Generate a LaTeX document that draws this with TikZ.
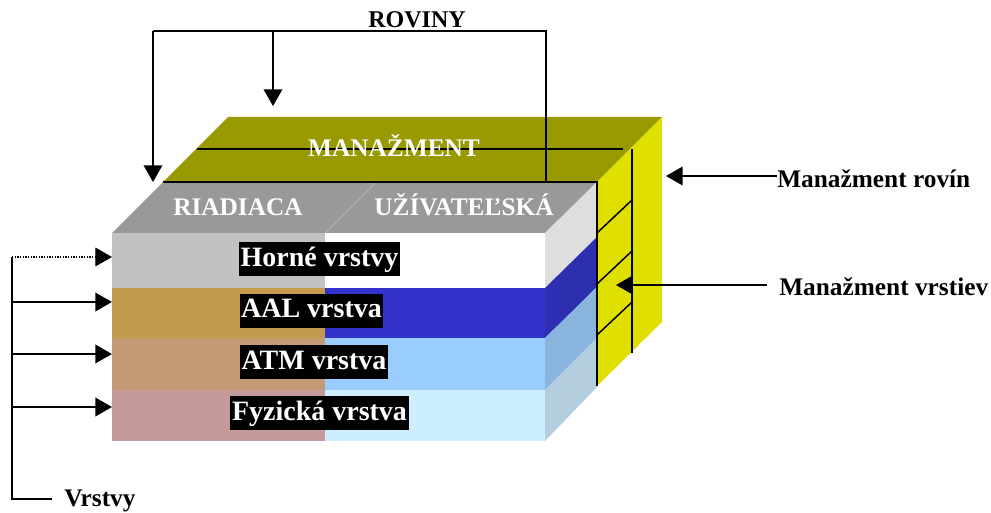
\documentclass[tikz,border=0pt]{standalone}
\usepackage{fontspec}
\setmainfont{Liberation Serif}
\usetikzlibrary{arrows.meta}

\definecolor{mgolive}{HTML}{999900}
\definecolor{mgyellow}{HTML}{E0E000}
\definecolor{plgray}{HTML}{999999}
\definecolor{plsplit}{HTML}{B0B0B0}
\definecolor{hrleft}{HTML}{C2C2C2}
\definecolor{hrside}{HTML}{DEDEDE}
\definecolor{aalleft}{HTML}{C49B4C}
\definecolor{aalright}{HTML}{3333CC}
\definecolor{aalside}{HTML}{2E2EB0}
\definecolor{atmleft}{HTML}{C39A73}
\definecolor{atmright}{HTML}{99CCFF}
\definecolor{atmside}{HTML}{88B4DD}
\definecolor{fyzleft}{HTML}{C49A9A}
\definecolor{fyzright}{HTML}{CCEEFF}
\definecolor{fyzside}{HTML}{B3CEDF}

\begin{document}
\begin{tikzpicture}[x=0.75pt,y=-0.75pt,
  wire/.style={line width=1.1pt},
  arr/.style={wire,-{Triangle[width=14pt,length=12.5pt]}},
  layerlbl/.style={fill=black,text=white,font=\bfseries\fontsize{21}{25}\selectfont,
    inner xsep=1.2pt,inner ysep=3pt,text height=15pt,text depth=4.5pt},
  facelbl/.style={text=white,font=\bfseries\fontsize{19}{22}\selectfont,inner sep=0pt},
  sidelbl/.style={font=\bfseries\fontsize{19}{22}\selectfont,inner sep=0pt}
]
\useasboundingbox (0,0) rectangle (991,513);

% --- block: top faces and right side panel
\fill[mgolive] (163,182) -- (228,117) -- (662,117) -- (597,182) -- cycle;
\fill[mgyellow] (597,182) -- (662,117) -- (662,322) -- (597,386) -- cycle;
\fill[plgray] (112,233) -- (163,182) -- (597,182) -- (545,233) -- cycle;
\draw[plsplit, line width=0.6pt] (325,233) -- (376,182);

% --- layers: left half, right half, side face
\fill[hrleft]  (112,233) rectangle (325,288);
\fill[white]   (325,233) rectangle (545,288);
\fill[hrside]  (545,233) -- (597,182) -- (597,237) -- (545,288) -- cycle;

\fill[aalleft]  (112,288) rectangle (325,338);
\fill[aalright] (325,288) rectangle (545,338);
\fill[aalside]  (545,288) -- (597,237) -- (597,287) -- (545,338) -- cycle;

\fill[atmleft]  (112,338) rectangle (325,390);
\fill[atmright] (325,338) rectangle (545,390);
\fill[atmside]  (545,338) -- (597,287) -- (597,338) -- (545,390) -- cycle;

\fill[fyzleft]  (112,390) rectangle (325,441);
\fill[fyzright] (325,390) rectangle (545,441);
\fill[fyzside]  (545,390) -- (597,338) -- (597,387) -- (545,441) -- cycle;

% --- management lines on the block
\draw[wire] (197,149) -- (623,149);
\draw[wire] (632,149) -- (632,353);
\draw[wire] (163,182) -- (597,182) -- (597,386);
\draw[wire] (597,233) -- (632,200);
\draw[wire] (597,284) -- (632,251);
\draw[wire] (597,335) -- (632,302);

% --- face labels
\node[facelbl, anchor=base] (manaz) at (394,157) {MANAŽMENT};
\node[facelbl, anchor=base] (riad) at (238,215) {RIADIACA};
\node[facelbl, anchor=base] (uziv) at (464,215) {UŽÍVATEĽSKÁ};

% --- layer labels
\node[layerlbl] (horne) at (319.5,259) {Horné vrstvy};
\node[layerlbl] (aal)   at (311.5,310.5) {AAL vrstva};
\node[layerlbl] (atm)   at (314,362) {ATM vrstva};
\node[layerlbl] (fyz)   at (319.5,413) {Fyzická vrstva};

% --- planes bracket
\node[sidelbl, font=\bfseries\fontsize{18}{21}\selectfont, anchor=base] (rovtxt) at (417,28) {ROVINY};
\coordinate (rovL) at (153,31);
\coordinate (rovM) at (273,31);
\coordinate (rovR) at (546,31);
\coordinate (riadTop) at (153,182);
\coordinate (manTop) at (273,106);
\coordinate (uzTop) at (546,182);
\draw[wire] (rovL) -- (rovR) -- (uzTop);
\draw[arr] (rovL) -- (riadTop);
\draw[arr] (rovM) -- (manTop);

% --- management labels on the right
\node[sidelbl, anchor=base west] (mrov) at (777,188) {Manažment rovín};
\node[sidelbl, anchor=base west] (mvrs) at (779,295) {Manažment vrstiev};
\coordinate (rovTip) at (666,176);
\coordinate (vrsTip) at (616,285);
\draw[arr] (mrov.west |- rovTip) -- (rovTip);
\draw[arr] (767,285) -- (vrsTip);

% --- layers bracket
\coordinate (vTop) at (12,257);
\coordinate (vBot) at (12,499);
\coordinate (vEnd) at (52,499);
\node[sidelbl, anchor=base west] (vrstvy) at (64,506) {Vrstvy};
\draw[wire] (vTop) -- (vBot) -- (vEnd);
\draw[arr, line width=0.9pt, dash pattern=on 1pt off 1pt] (vTop) -- (112,257);
\draw[arr] (12,302) -- (112,302);
\draw[arr] (12,354) -- (112,354);
\draw[arr] (13,407) -- (112,407);
\end{tikzpicture}
\end{document}
